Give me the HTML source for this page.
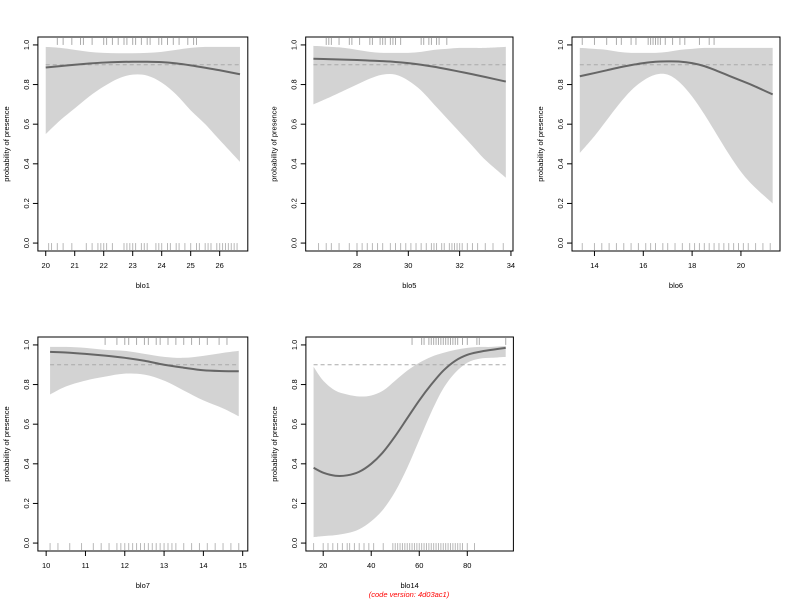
<!DOCTYPE html>
<html><head><meta charset="utf-8"><style>
body{margin:0;background:#fff;}
svg{display:block;font-family:"Liberation Sans",sans-serif;}
</style></head><body>
<svg id="chart" width="800" height="600" viewBox="0 0 800 600"></svg>
<script>
// ---- data ----
const p1Label="blo1", p1X=[20,20.5,21,21.5,22,22.5,23,23.5,24,24.5,25,25.5,26,26.7];
const p1Mean=[.886,.893,.90,.906,.911,.914,.915,.915,.913,.907,.897,.885,.872,.852];
const p1Lo=[.55,.62,.68,.74,.79,.83,.85,.845,.81,.75,.67,.6,.52,.41];
const p1Hi=[.99,.985,.975,.965,.96,.958,.958,.96,.965,.975,.985,.99,.99,.99];
const p1Ticks=[20,21,22,23,24,25,26];
const p1RugTop=[20.4,20.6,20.9,21.2,21.3,21.6,22.0,22.1,22.3,22.5,22.7,22.8,23.0,23.1,23.3,23.5,23.6,23.9,24.0,24.2,24.4,24.6,24.9,25.1,25.2];
const p1RugBot=[20.1,20.2,20.4,20.6,20.9,21.4,21.6,21.8,21.9,22.0,22.1,22.3,22.7,22.8,22.9,23.0,23.1,23.3,23.4,23.5,23.8,23.9,24.0,24.2,24.3,24.5,24.6,24.8,25.0,25.2,25.3,25.5,25.6,25.7,25.9,26.0,26.1,26.2,26.3,26.4,26.5,26.6];
const p2Label="blo5", p2X=[26.3,27,27.5,28,28.5,29,29.5,30,30.5,31,31.5,32,32.5,33,33.8];
const p2Mean=[.93,.928,.926,.924,.921,.918,.914,.908,.9,.89,.878,.865,.852,.838,.815];
const p2Lo=[.70,.74,.77,.80,.83,.85,.85,.82,.77,.70,.63,.56,.49,.42,.33];
const p2Hi=[.995,.99,.985,.975,.965,.96,.96,.96,.965,.975,.98,.985,.985,.985,.99];
const p2Ticks=[28,30,32,34];
const p2RugTop=[26.8,26.9,27.0,27.3,27.7,27.8,28.1,28.5,28.6,28.9,29.0,29.1,29.3,29.4,29.5,29.7,30.5,30.6,30.8,30.9,31.1,31.2,31.5];
const p2RugBot=[26.5,26.8,27.0,27.3,27.7,28.0,28.2,28.4,28.6,28.8,29.0,29.3,29.5,29.7,29.9,30.1,30.3,30.5,30.7,30.9,31.0,31.1,31.3,31.4,31.6,31.7,31.8,31.9,32.0,32.1,32.3,32.5,32.7,33.0,33.3,33.7];
const p3Label="blo6", p3X=[13.4,14,14.5,15,15.5,16,16.5,17,17.5,18,18.5,19,19.5,20,20.5,21.3];
const p3Mean=[.842,.858,.872,.886,.898,.908,.915,.917,.916,.908,.893,.87,.845,.82,.795,.75];
const p3Lo=[.455,.54,.62,.70,.77,.82,.85,.85,.81,.74,.65,.55,.45,.36,.29,.20];
const p3Hi=[.985,.98,.975,.965,.96,.96,.96,.965,.975,.98,.985,.985,.985,.985,.985,.985];
const p3Ticks=[14,16,18,20];
const p3RugTop=[13.5,14.0,14.5,14.9,15.1,15.5,15.7,16.2,16.3,16.4,16.5,16.6,16.7,16.9,17.2,17.5,17.7,18.3,18.7,18.9];
const p3RugBot=[13.5,14.0,14.3,14.6,14.9,15.2,15.5,15.8,16.1,16.3,16.5,16.8,17.0,17.3,17.6,17.9,18.1,18.3,18.5,18.7,18.9,19.1,19.3,19.5,19.7,19.9,20.1,20.3,20.6,20.9,21.2];
const p4Label="blo7", p4X=[10.1,10.5,11,11.5,12,12.5,13,13.5,14,14.5,14.9];
const p4Mean=[.965,.962,.955,.946,.935,.92,.9,.885,.872,.868,.867];
const p4Lo=[.75,.79,.82,.84,.855,.85,.82,.77,.72,.68,.64];
const p4Hi=[.99,.99,.985,.975,.97,.955,.94,.935,.945,.96,.97];
const p4Ticks=[10,11,12,13,14,15];
const p4RugTop=[11.5,11.8,12.0,12.1,12.3,12.5,12.6,12.8,12.9,13.1,13.3,13.5,13.7,13.9,14.1,14.4,14.6];
const p4RugBot=[10.1,10.3,10.6,10.9,11.2,11.4,11.6,11.8,11.9,12.0,12.1,12.2,12.3,12.4,12.5,12.6,12.7,12.8,12.9,13.0,13.1,13.2,13.3,13.5,13.7,13.9,14.1,14.3,14.5,14.7,14.9];
const p5Label="blo14", p5X=[16,20,25,30,35,40,45,50,55,60,65,70,75,80,85,90,96];
const p5Mean=[.38,.355,.34,.342,.36,.4,.46,.54,.63,.72,.8,.87,.92,.95,.965,.975,.985];
const p5Lo=[.03,.035,.04,.05,.07,.11,.17,.26,.38,.52,.66,.78,.86,.91,.93,.935,.94];
const p5Hi=[.89,.82,.77,.75,.74,.745,.77,.82,.87,.91,.94,.96,.975,.985,.99,.99,.995];
const p5Ticks=[20,40,60,80];
const p5RugTop=[57,61,62,64,65,66,67,68,69,70,71,72,73,74,75,76,78,80,84,85,96];
const p5RugBot=[16,20,22,24,26,28,30,31,33,35,37,39,41,45,49,50,51,52,53,54,55,56,57,58,59,60,61,62,63,64,65,66,67,68,69,70,71,72,73,74,75,76,77,78,80,83];
const yTicks=[0,0.2,0.4,0.6,0.8,1.0];
const threshold=0.9;

const panels=[
 {id:"blo1",label:p1Label,x:p1X,mean:p1Mean,lo:p1Lo,hi:p1Hi,ticks:p1Ticks,rt:p1RugTop,rb:p1RugBot,L:37.9,R:247.8,T:37,B:251,xl:19.73,xh:26.97},
 {id:"blo5",label:p2Label,x:p2X,mean:p2Mean,lo:p2Lo,hi:p2Hi,ticks:p2Ticks,rt:p2RugTop,rb:p2RugBot,L:305.7,R:513,T:37,B:251,xl:26.0,xh:34.08},
 {id:"blo6",label:p3Label,x:p3X,mean:p3Mean,lo:p3Lo,hi:p3Hi,ticks:p3Ticks,rt:p3RugTop,rb:p3RugBot,L:572,R:780,T:37,B:251,xl:13.08,xh:21.6},
 {id:"blo7",label:p4Label,x:p4X,mean:p4Mean,lo:p4Lo,hi:p4Hi,ticks:p4Ticks,rt:p4RugTop,rb:p4RugBot,L:37.9,R:247.8,T:337,B:551,xl:9.79,xh:15.13},
 {id:"blo14",label:p5Label,x:p5X,mean:p5Mean,lo:p5Lo,hi:p5Hi,ticks:p5Ticks,rt:p5RugTop,rb:p5RugBot,L:305.9,R:513.4,T:337,B:551,xl:12.8,xh:99.2}
];
const NS="http://www.w3.org/2000/svg";
const svg=document.getElementById('chart');
function mk(tag,attrs,parent){const e=document.createElementNS(NS,tag);for(const k in attrs)e.setAttribute(k,attrs[k]);(parent||svg).appendChild(e);return e;}
function smooth(pts){let d="M"+pts[0][0]+","+pts[0][1];for(let i=0;i<pts.length-1;i++){const p0=pts[Math.max(0,i-1)],p1=pts[i],p2=pts[i+1],p3=pts[Math.min(pts.length-1,i+2)];
 const c1=[p1[0]+(p2[0]-p0[0])/6,p1[1]+(p2[1]-p0[1])/6],c2=[p2[0]-(p3[0]-p1[0])/6,p2[1]-(p3[1]-p1[1])/6];
 d+=" C"+c1+" "+c2+" "+p2;}return d;}
panels.forEach(p=>{
 const g=mk('g',{});
 
 
 const sx=v=>p.L+(v-p.xl)/(p.xh-p.xl)*(p.R-p.L);
 const sy=v=>p.B-(v+0.04)/1.08*(p.B-p.T);
 const hiPts=p.x.map((v,i)=>[sx(v),sy(p.hi[i])]), loPts=p.x.map((v,i)=>[sx(v),sy(p.lo[i])]).reverse();
 const loPath=smooth(loPts);
 const band=mk('path',{d:smooth(hiPts)+" L"+loPts[0]+loPath.slice(loPath.indexOf("C")-1)+"Z",fill:"#d3d3d3",stroke:"none"},g);
 
 
 const th=mk('line',{x1:sx(p.x[0]),x2:sx(p.x[p.x.length-1]),y1:sy(threshold),y2:sy(threshold),stroke:"#aaa","stroke-width":1,"stroke-dasharray":"4,3"},g);
 
 
 const ln=mk('path',{d:smooth(p.x.map((v,i)=>[sx(v),sy(p.mean[i])])),fill:"none",stroke:"#666","stroke-width":2},g);
 
 
 p.rt.forEach(v=>{const r=mk('line',{x1:sx(v),x2:sx(v),y1:p.T+1,y2:sy(1.0),stroke:"#888","stroke-opacity":0.7,"stroke-width":1},g);
  
  });
 p.rb.forEach(v=>{const r=mk('line',{x1:sx(v),x2:sx(v),y1:sy(0),y2:p.B-1,stroke:"#888","stroke-opacity":0.6,"stroke-width":1},g);
  
  });
 const box=mk('rect',{x:p.L,y:p.T,width:p.R-p.L,height:p.B-p.T,fill:"none",stroke:"#000","stroke-width":1},g);
 
 
 yTicks.forEach(v=>{const y=sy(v);mk('line',{x1:p.L-5,x2:p.L,y1:y,y2:y,stroke:"#000"},g);
  const t=mk('text',{x:p.L-9,y:y,"font-size":7.5,"text-anchor":"middle",transform:`rotate(-90 ${p.L-9} ${y})`,fill:"#000"},g);t.textContent=v.toFixed(1);
  
  });
 p.ticks.forEach(v=>{const x=sx(v);mk('line',{x1:x,x2:x,y1:p.B,y2:p.B+5,stroke:"#000"},g);
  const t=mk('text',{x:x,y:p.B+17,"font-size":7.5,"text-anchor":"middle"},g);t.textContent=v;
  
  });
 const xt=mk('text',{x:(p.L+p.R)/2,y:p.B+37,"font-size":7.5,"text-anchor":"middle"},g);xt.textContent=p.label;
 
 
 const yx=p.L-29,yy=(p.T+p.B)/2;
 const yt=mk('text',{x:yx,y:yy,"font-size":7.5,"text-anchor":"middle",transform:`rotate(-90 ${yx} ${yy})`},g);yt.textContent="probability of presence";
 
 
});
const cv=mk('text',{x:409,y:597,"font-size":7.5,"text-anchor":"middle",fill:"#ff0000","font-style":"italic"});
cv.textContent="(code version: 4d03ac1)";


</script>
</body></html>
